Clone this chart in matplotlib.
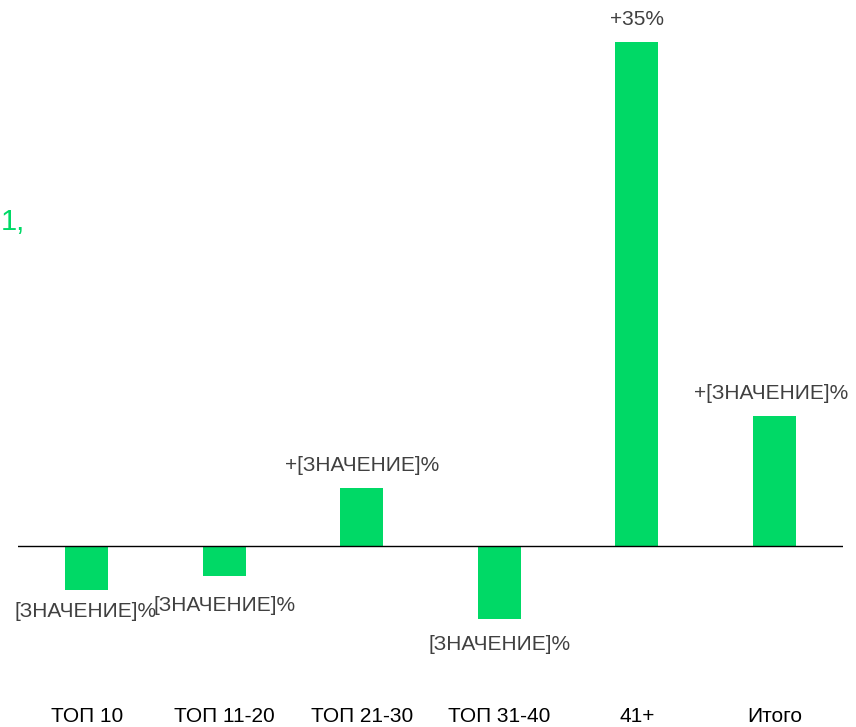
import matplotlib
matplotlib.use("Agg")
import matplotlib.pyplot as plt

categories = ["ТОП 10", "ТОП 11-20", "ТОП 21-30", "ТОП 31-40", "41+", "Итого"]
values = [-3.05, -2.05, 4.0, -5.05, 35.0, 9.0]
value_labels = ["[ЗНАЧЕНИЕ]%", "[ЗНАЧЕНИЕ]%", "+[ЗНАЧЕНИЕ]%", "[ЗНАЧЕНИЕ]%", "+35%", "+[ЗНАЧЕНИЕ]%"]

GREEN = "#00D966"
plt.rcParams["font.family"] = ["Liberation Sans", "DejaVu Sans"]

fig = plt.figure(figsize=(8.56, 7.27), dpi=100)
ax = fig.add_axes([0.021, 0.10, 0.964, 0.85])
x = list(range(len(categories)))
ax.bar(x, values, width=0.313, color=GREEN, zorder=2)
ax.axhline(0, color="black", lw=1.0, zorder=3)
ax.set_xlim(-0.5, 5.5)
ax.set_ylim(-7.52, 35.39)
for s in ax.spines.values():
    s.set_visible(False)
ax.set_yticks([])
ax.set_xticks(x)
ax.set_xticklabels(categories, fontsize=15, color="black")
ax.tick_params(axis="x", length=0, pad=38)

# label centre offsets (x px, y px) from the bar end, outward
offsets = [(-1, 22), (0, 30), (0, 23), (0, 26), (0, 22), (-3, 23)]
px = 72.0 / fig.dpi
for i, (v, lab) in enumerate(zip(values, value_labels)):
    dx, dy = offsets[i]
    sign = 1 if v >= 0 else -1
    ax.annotate(lab, (i, v), xytext=(dx * px, sign * dy * px), textcoords="offset points",
                ha="center", va="center", fontsize=15, color="#404040")

fig.text(0.001, 0.695, "1,", color=GREEN, fontsize=21, ha="left", va="center")

fig.savefig("out.png", dpi=100)
